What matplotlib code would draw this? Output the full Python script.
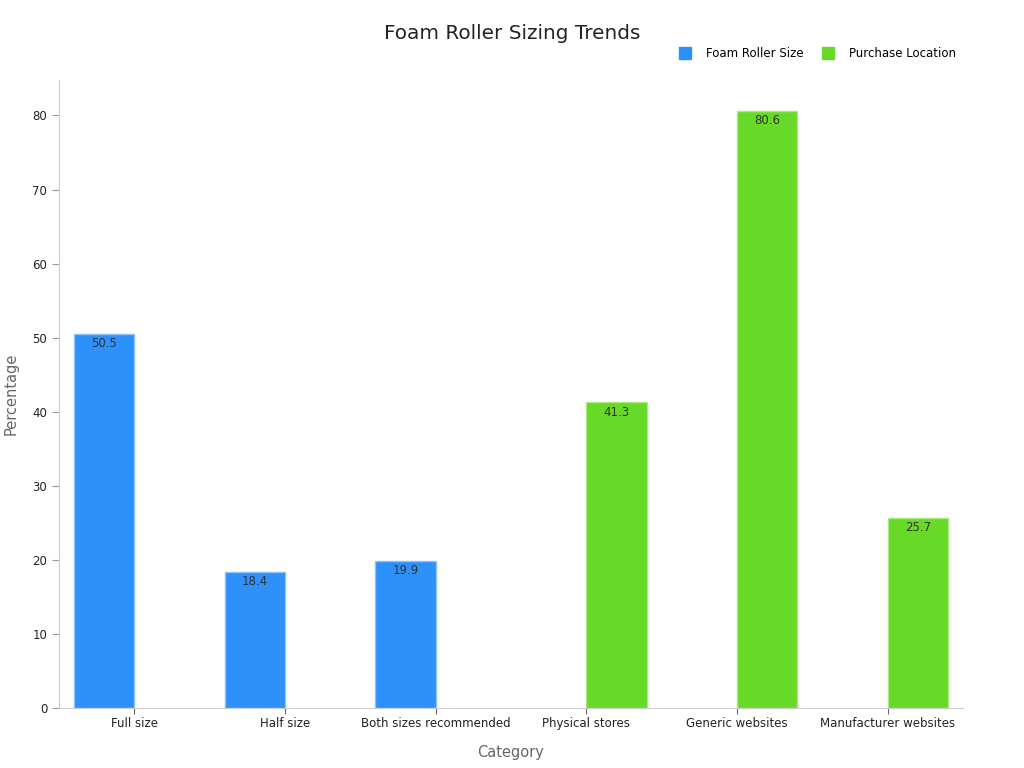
import matplotlib
matplotlib.use("Agg")
import matplotlib.pyplot as plt
import numpy as np
from matplotlib.lines import Line2D

categories = ["Full size", "Half size", "Both sizes recommended",
              "Physical stores", "Generic websites", "Manufacturer websites"]
series_names = ["Foam Roller Size", "Purchase Location"]
foam_size = [50.5, 18.4, 19.9, 0, 0, 0]
purchase_loc = [0, 0, 0, 41.3, 80.6, 25.7]
colors = ["#2E90FA", "#66DA26"]
edge_colors = ["#8CC2FC", "#A8EA84"]

fig = plt.figure(figsize=(10.24, 7.68), dpi=100)
ax = fig.add_axes([0.0576, 0.078, 0.8828, 0.818])

x = np.arange(len(categories))
w = 0.4
for i, (vals, off) in enumerate([(foam_size, -w / 2), (purchase_loc, w / 2)]):
    xs = [xi + off for xi, v in zip(x, vals) if v > 0]
    vs = [v for v in vals if v > 0]
    bars = ax.bar(xs, vs, width=w, color=colors[i], edgecolor=edge_colors[i], linewidth=1)
    for b, v in zip(bars, vs):
        ax.annotate(f"{v}", (b.get_x() + b.get_width() / 2, v), xytext=(0, -2.5),
                    textcoords="offset points", ha="center", va="top",
                    fontsize=8.5, color="#333333")

ax.set_xlim(-0.5, 5.5)
ax.set_ylim(0, 84.8)
ax.set_xticks(x)
ax.set_xticklabels(categories, fontsize=8.5, color="#222222")
ax.set_yticks(range(0, 81, 10))
ax.tick_params(axis="y", labelsize=8.5, colors="#222222", length=5, color="#999999")
ax.tick_params(axis="x", length=4, color="#666666", pad=2.5)
for s in ["top", "right"]:
    ax.spines[s].set_visible(False)
for s in ["left", "bottom"]:
    ax.spines[s].set_color("#cccccc")
ax.set_xlabel("Category", fontsize=10.5, color="#666666", labelpad=11)
ax.set_ylabel("Percentage", fontsize=10.5, color="#666666", labelpad=10)

fig.text(0.5, 0.957, "Foam Roller Sizing Trends", ha="center", va="center",
         fontsize=14.4, color="#222222")

handles = [Line2D([0], [0], marker="s", linestyle="", markersize=8,
                  markerfacecolor=c, markeredgecolor=c) for c in colors]
fig.legend(handles, series_names, loc="center right", bbox_to_anchor=(0.944, 0.930),
           ncol=2, frameon=False, fontsize=8.5, handlelength=1.0, handletextpad=1.25,
           columnspacing=1.6)

fig.savefig("out.png", dpi=100)
